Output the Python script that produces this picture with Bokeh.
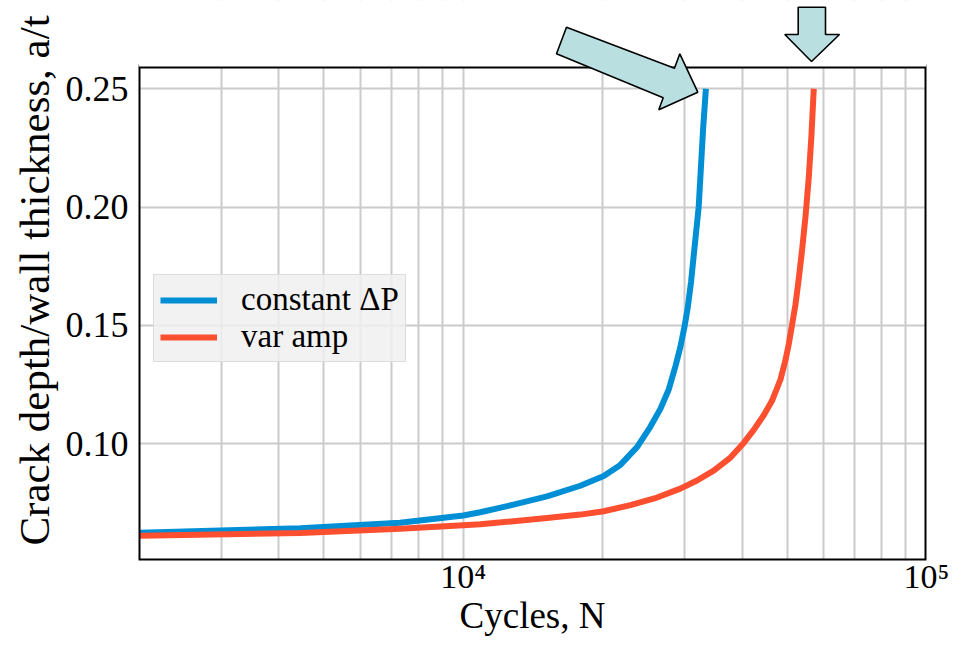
from bokeh.plotting import figure
from bokeh.models import (Range1d, FixedTicker, CustomJSTickFormatter, PrintfTickFormatter,
                          Legend, LegendItem, PolyAnnotation, BoxAnnotation)
from bokeh.embed import file_html
from bokeh.resources import INLINE

# ---- data ----
blue_n = [2000, 4450, 7300, 10000, 10880, 12840, 15160, 17890, 20100, 21830, 23720, 25340,
          26640, 27770, 28700, 29420, 30010, 30510, 31020, 31430, 31850, 32220, 32610, 32940, 33400]
blue_a = [0.0623, 0.0642, 0.0666, 0.0696, 0.0710, 0.0742, 0.0777, 0.0822, 0.0863, 0.0910, 0.0985,
          0.1071, 0.1147, 0.1229, 0.1326, 0.1408, 0.1491, 0.1573, 0.1683, 0.1793, 0.1903, 0.1999,
          0.2178, 0.2330, 0.2500]
red_n = [2000, 4450, 7300, 10000, 10880, 12840, 15160, 17890, 20100, 22950, 26200, 29420, 31960,
         34720, 37740, 40310, 42370, 44530, 46420, 48390, 49610, 50420, 51270, 52130, 53000,
         53890, 54790, 55690, 56440, 57100]
red_a = [0.0611, 0.0622, 0.0640, 0.0655, 0.0659, 0.0672, 0.0686, 0.0700, 0.0714, 0.0740, 0.0772,
         0.0810, 0.0844, 0.0886, 0.0941, 0.1003, 0.1058, 0.1120, 0.1182, 0.1271, 0.1353, 0.1420,
         0.1504, 0.1587, 0.1697, 0.1821, 0.1958, 0.2123, 0.2302, 0.2500]
series_labels = ["constant \u0394P", "var amp"]
x_major = [10000, 100000]
x_minor = [3000, 4000, 5000, 6000, 7000, 8000, 9000,
           20000, 30000, 40000, 50000, 60000, 70000, 80000, 90000]
y_ticks = [0.10, 0.15, 0.20, 0.25]
x_lo, x_hi = 1990, 100000          # visible axis limits
y_lo, y_hi = 0.0506, 0.2594

# arrow annotation outlines (canvas pixels)
arrow1_x = [566, 674, 679.3, 697.3, 658.3, 662.7, 556]
arrow1_y = [26.7, 67.7, 53.3, 91.7, 109.3, 97.3, 53.3]
arrow2_x = [797.7, 825, 825, 839, 811, 784.3, 797.7]
arrow2_y = [6.7, 6.7, 34, 34, 61, 34, 34]

FONT = "Liberation Serif"
BLUE = "#008fd5"
RED = "#fc4f30"
GRID = "#cbcbcb"
ARROW_FILL = "#b9dfe1"

W, H = 950, 640
B_LEFT, B_RIGHT, B_BOTTOM = 138, 24, 80
VIS_TOP = 66                      # pixel row of the visible top border
frame_h = H - B_BOTTOM
y_top = y_lo + frame_h / (frame_h - VIS_TOP) * (y_hi - y_lo)

p = figure(width=W, height=H, x_axis_type="log",
           x_range=Range1d(x_lo, x_hi), y_range=Range1d(y_lo, y_top),
           output_backend="svg", toolbar_location=None,
           min_border_left=B_LEFT, min_border_right=B_RIGHT, min_border_top=0,
           min_border_bottom=B_BOTTOM)

p.background_fill_color = "white"
p.border_fill_color = "white"
p.outline_line_color = None

# grids
for g in (p.xgrid, p.ygrid):
    g.grid_line_color = GRID
    g.grid_line_width = 2
    g.grid_line_alpha = 1.0
p.xgrid.minor_grid_line_color = GRID
p.xgrid.minor_grid_line_width = 2
p.xgrid.minor_grid_line_alpha = 1.0

# axes
p.xaxis.ticker = FixedTicker(ticks=x_major, minor_ticks=x_minor)
p.xaxis.formatter = CustomJSTickFormatter(code="""
    const sup = {'0':'\u2070','1':'\u00b9','2':'\u00b2','3':'\u00b3','4':'\u2074',
                 '5':'\u2075','6':'\u2076','7':'\u2077','8':'\u2078','9':'\u2079'};
    const e = String(Math.round(Math.log10(tick)));
    return '10' + e.split('').map(c => sup[c]).join('');
""")
p.yaxis.ticker = FixedTicker(ticks=y_ticks)
p.yaxis.formatter = PrintfTickFormatter(format="%.2f")
p.yaxis.bounds = (y_lo, y_hi)

for ax in (p.xaxis, p.yaxis):
    ax.axis_line_color = None
    ax.major_tick_line_color = None
    ax.minor_tick_line_color = None
    ax.major_tick_out = 0
    ax.major_tick_in = 0
    ax.minor_tick_out = 0
    ax.minor_tick_in = 0
    ax.major_label_text_font = FONT
    ax.major_label_text_color = "black"
    ax.axis_label_text_font = FONT
    ax.axis_label_text_font_style = "normal"
    ax.axis_label_text_color = "black"

p.yaxis.major_label_text_font_size = "36px"
p.yaxis.axis_label_text_font_size = "43px"
p.xaxis.major_label_text_font_size = "34px"
p.xaxis.axis_label_text_font_size = "37px"

p.xaxis.axis_label = "Cycles, N"
p.yaxis.axis_label = "Crack depth/wall thickness, a/t"
p.xaxis.major_label_standoff = -3
p.xaxis.axis_label_standoff = -3
p.yaxis.major_label_standoff = 10
p.yaxis.axis_label_standoff = 5

# curves
r1 = p.line(blue_n, blue_a, line_color=BLUE, line_width=6, line_join="round")
r2 = p.line(red_n, red_a, line_color=RED, line_width=6, line_join="round")

# visible plot border (left/right/bottom on the frame edge, top at y_hi)
p.add_layout(BoxAnnotation(left=None, right=None, bottom=None, top=y_hi,
                           fill_color=None, fill_alpha=0,
                           line_color="black", line_alpha=1.0, line_width=4))
# blank strip above the visible border, where the arrows sit
p.add_layout(BoxAnnotation(bottom=y_hi, fill_color="#ffffff", fill_alpha=1.0,
                           line_color=None, line_alpha=0))

legend = Legend(items=[LegendItem(label=series_labels[0], renderers=[r1]),
                       LegendItem(label=series_labels[1], renderers=[r2])],
                location=(15, 198))
legend.background_fill_color = "#f0f0f0"
legend.background_fill_alpha = 0.85
legend.border_line_color = "#dddddd"
legend.border_line_width = 1
legend.border_line_alpha = 1.0
legend.label_text_font = FONT
legend.label_text_font_size = "33px"
legend.label_text_color = "black"
legend.glyph_width = 57
legend.glyph_height = 34
legend.label_height = 34
legend.label_standoff = 24
legend.padding = 6
legend.spacing = 0
legend.margin = 0
p.add_layout(legend)

# arrows pointing at the failure points
for xs, ys in ((arrow1_x, arrow1_y), (arrow2_x, arrow2_y)):
    p.add_layout(PolyAnnotation(xs=xs, ys=ys, xs_units="canvas", ys_units="canvas",
                                fill_color=ARROW_FILL, fill_alpha=1.0,
                                line_color="black", line_alpha=1.0, line_width=1.6,
                                level="overlay"))

open("out.html", "w").write(file_html(p, INLINE))
